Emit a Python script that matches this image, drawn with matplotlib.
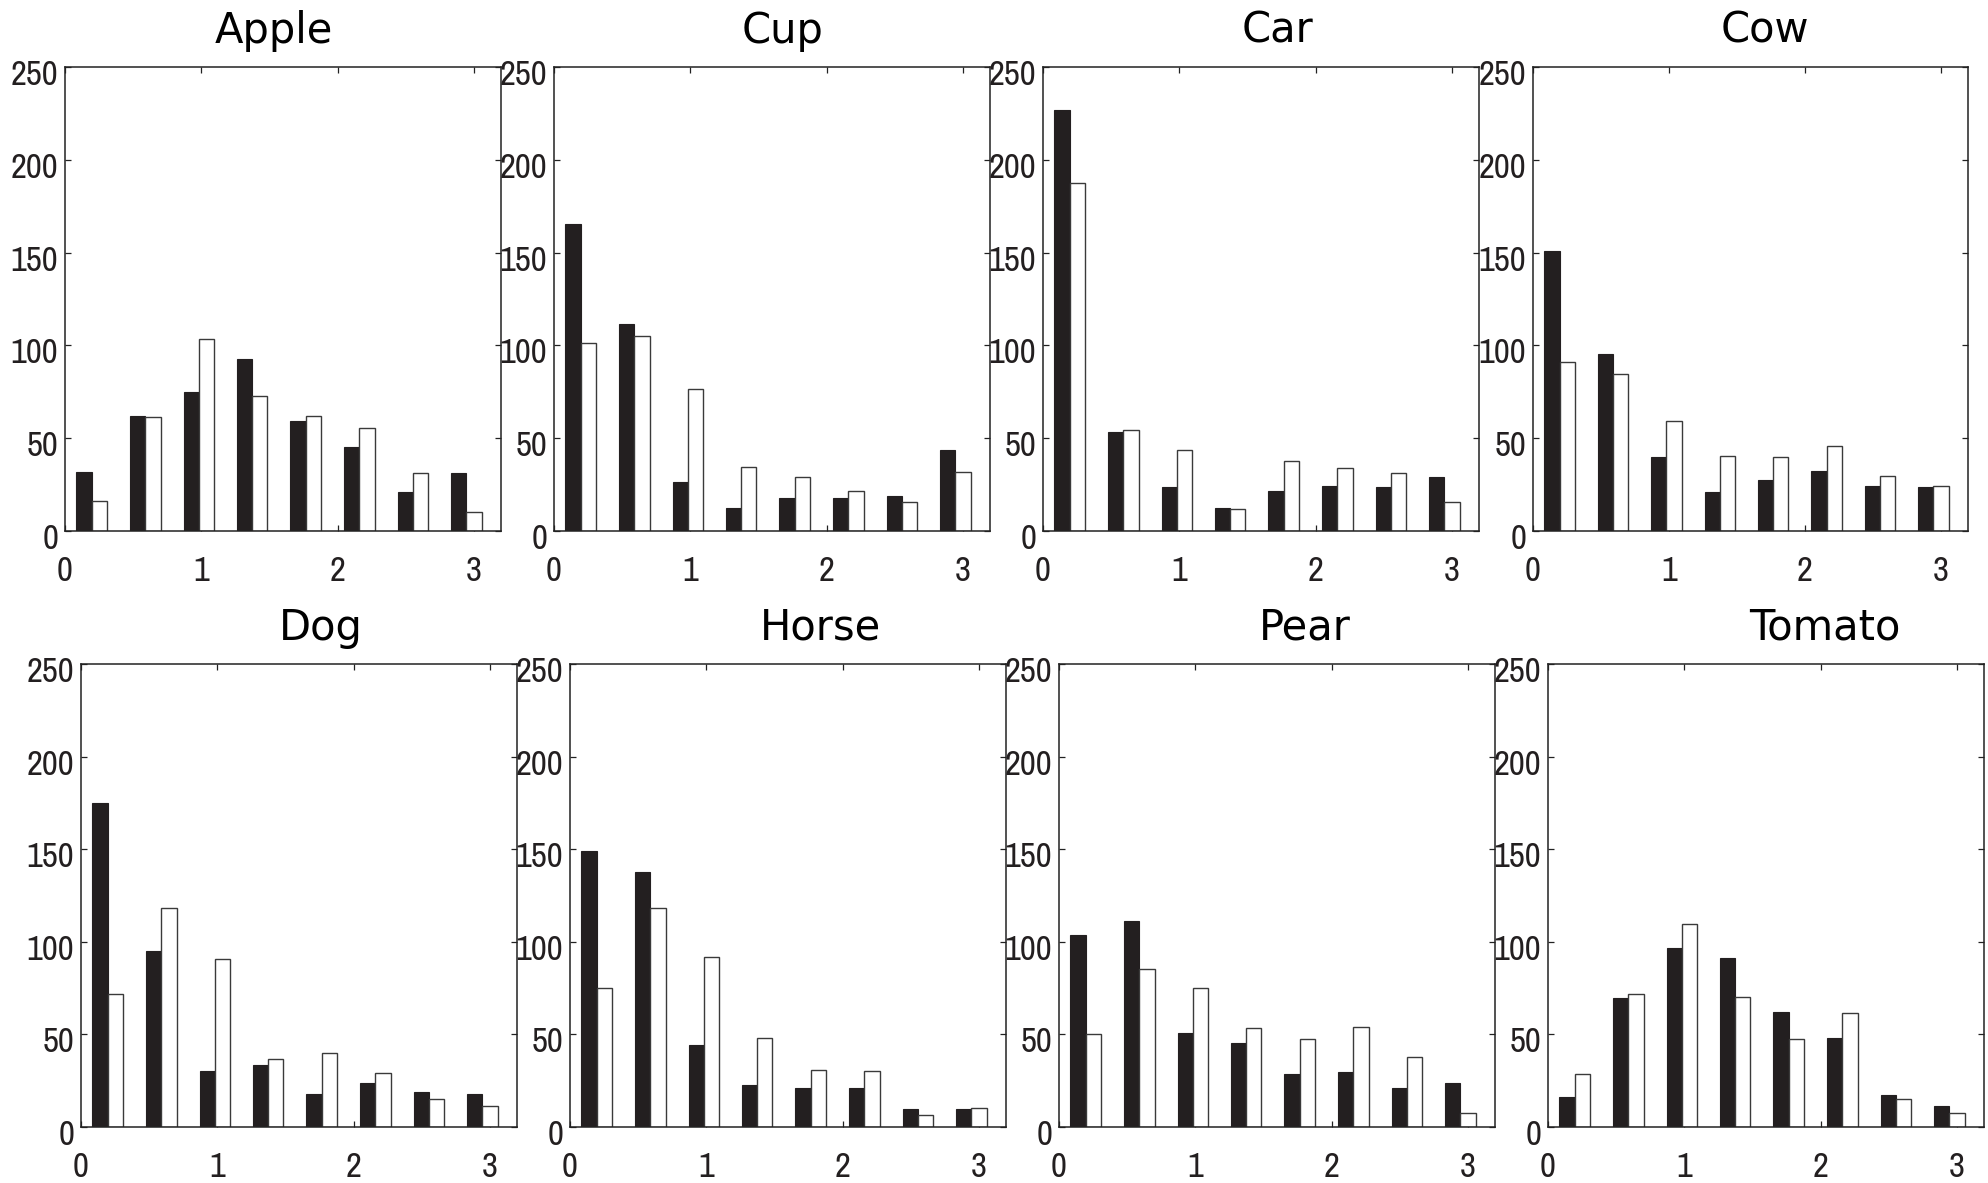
import matplotlib
matplotlib.use("Agg")
import matplotlib.pyplot as plt
from matplotlib.transforms import ScaledTranslation
import numpy as np

# ---------------- data ----------------
categories = ["Apple", "Cup", "Car", "Cow", "Dog", "Horse", "Pear", "Tomato"]
bin_centers = [0.196, 0.589, 0.982, 1.374, 1.767, 2.160, 2.553, 2.945]

apple_black = [32, 62, 75, 92.5, 59, 45, 21, 31]
apple_white = [16, 61.5, 103.5, 73, 62, 55.5, 31, 10.5]
cup_black = [165.5, 111.5, 26.5, 12.5, 18, 18, 19, 43.5]
cup_white = [101.5, 105, 76.5, 34.5, 29, 21.5, 15.5, 32]
car_black = [227, 53.5, 23.5, 12.5, 21.5, 24.5, 23.5, 29]
car_white = [187.5, 54.5, 43.5, 12, 37.5, 34, 31, 15.5]
cow_black = [151, 95.5, 40, 21, 27.5, 32.5, 24.5, 23.5]
cow_white = [91, 84.5, 59, 40.5, 40, 46, 29.5, 24.5]
dog_black = [175, 95, 30.5, 33.5, 18, 23.5, 19, 18]
dog_white = [72, 118, 90.5, 36.5, 40, 29, 15, 11.5]
horse_black = [149, 137.5, 44.5, 22.5, 21, 21, 9.5, 9.5]
horse_white = [75, 118.5, 92, 48, 31, 30.5, 6.5, 10]
pear_black = [103.5, 111, 50.5, 45.5, 28.5, 29.5, 21, 24]
pear_white = [50, 85.5, 75, 53.5, 47.5, 54, 38, 7.5]
tomato_black = [16, 69.5, 96.5, 91.5, 62, 48, 17.5, 11.5]
tomato_white = [28.5, 72, 109.5, 70, 47.5, 61.5, 15, 7.5]

black_series = [apple_black, cup_black, car_black, cow_black,
                dog_black, horse_black, pear_black, tomato_black]
white_series = [apple_white, cup_white, car_white, cow_white,
                dog_white, horse_white, pear_white, tomato_white]

y_ticks = [0, 50, 100, 150, 200, 250]
x_ticks = [0, 1, 2, 3]

# ---------------- fonts ----------------
tick_font = ["Liberation Sans Narrow", "Nimbus Sans Narrow", "Arial Narrow",
             "Archivo Narrow", "Roboto Condensed", "Liberation Sans", "DejaVu Sans"]
title_font = ["DejaVu Sans"]

# ---------------- layout (pixels) ----------------
W, H = 1988, 1183
axes_px = [  # left, top, right, bottom
    (65, 67, 501, 531), (554, 67, 990, 531), (1043, 67, 1479, 531), (1533, 67, 1968, 531),
    (81, 664, 517, 1127), (570, 664, 1006, 1127), (1059, 664, 1495, 1127), (1548, 664, 1984, 1127),
]
title_offset_px = [-9, 11, 16, 14, 22, 33, 28, 59]

fig = plt.figure(figsize=(W / 100, H / 100), dpi=100)
fig.patch.set_facecolor("white")

bar_w = 0.112
dark = "#231f20"

for i, name in enumerate(categories):
    l, t, r, b = axes_px[i]
    ax = fig.add_axes([l / W, 1 - b / H, (r - l) / W, (b - t) / H])
    x = np.array(bin_centers)
    ax.bar(x - bar_w / 2, black_series[i], width=bar_w, color=dark,
           edgecolor=dark, linewidth=0.8, zorder=2)
    ax.bar(x + bar_w / 2, white_series[i], width=bar_w, color="white",
           edgecolor="#3a3a3a", linewidth=1.0, zorder=2)
    ax.set_xlim(0, 3.2)
    ax.set_ylim(0, 250)
    ax.set_xticks(x_ticks)
    ax.set_yticks(y_ticks)
    ax.tick_params(direction="in", length=4, width=0.9, top=True, right=True,
                   colors="#222222")
    ax.tick_params(axis="x", pad=17)
    ax.tick_params(axis="y", pad=5)
    for lab in ax.get_xticklabels() + ax.get_yticklabels():
        lab.set_fontfamily(tick_font)
        lab.set_fontsize(25)
        lab.set_color("#231f20")
    for lab in ax.get_yticklabels():
        lab.set_transform(lab.get_transform() + ScaledTranslation(0, -0.05, fig.dpi_scale_trans))
    for sp in ax.spines.values():
        sp.set_linewidth(1.1)
        sp.set_color("#222222")
    ax.set_title(name, x=0.5 + title_offset_px[i] / (r - l), pad=17.5,
                 fontsize=30, fontfamily=title_font, color="black")

fig.savefig("out.png", dpi=100, facecolor="white")
